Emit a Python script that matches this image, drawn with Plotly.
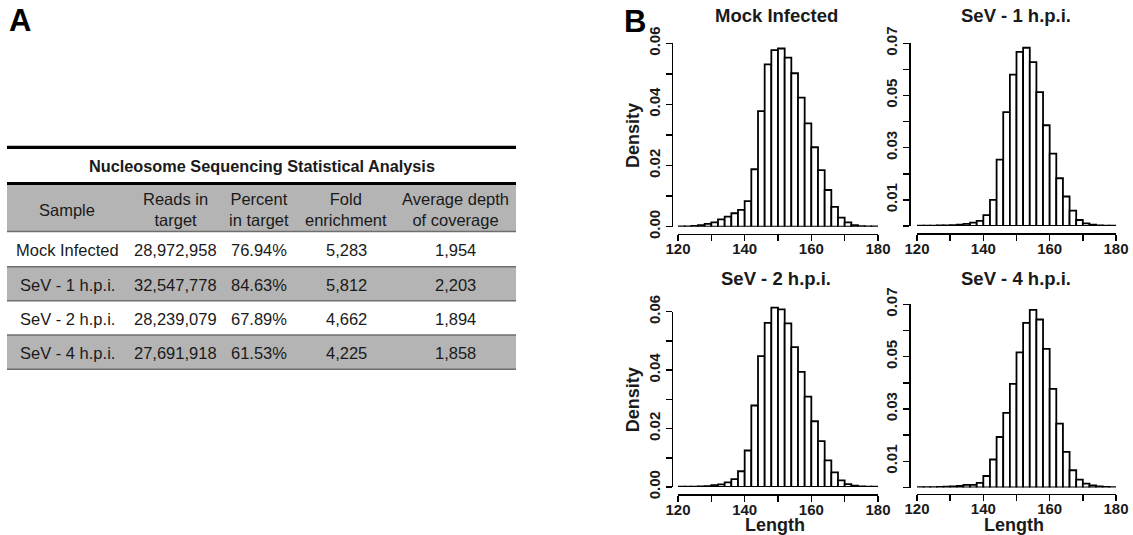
import plotly.graph_objects as go

W, H = 1133, 535
FONT = "Liberation Sans, Arial, Helvetica, sans-serif"
INK = "#1a1a1a"

# ---------------- data ----------------
bin_starts = list(range(120, 180, 2))
bin_width = 2

mock_density = [0.0001, 0.0001, 0.0003, 0.0005, 0.0009, 0.0014, 0.0024, 0.0033, 0.0044, 0.0055,
                0.0084, 0.0188, 0.0378, 0.0531, 0.0578, 0.0583, 0.0553, 0.0502, 0.0422, 0.0338,
                0.0260, 0.0185, 0.0120, 0.0065, 0.0030, 0.0014, 0.0005, 0.0002, 0.0001, 0.0001]
sev1_density = [0.0001, 0.0001, 0.0001, 0.0002, 0.0002, 0.0003, 0.0005, 0.0008, 0.0013, 0.0020,
                0.0042, 0.0100, 0.0254, 0.0436, 0.0580, 0.0667, 0.0683, 0.0628, 0.0513, 0.0386,
                0.0277, 0.0183, 0.0113, 0.0059, 0.0023, 0.0010, 0.0005, 0.0002, 0.0001, 0.0001]
sev2_density = [0.0001, 0.0001, 0.0001, 0.0002, 0.0003, 0.0006, 0.0009, 0.0016, 0.0027, 0.0054,
                0.0125, 0.0279, 0.0448, 0.0562, 0.0614, 0.0608, 0.0560, 0.0479, 0.0394, 0.0309,
                0.0225, 0.0157, 0.0091, 0.0050, 0.0023, 0.0010, 0.0005, 0.0002, 0.0001, 0.0001]
sev4_density = [0.0001, 0.0001, 0.0001, 0.0002, 0.0003, 0.0004, 0.0006, 0.0010, 0.0010, 0.0018,
                0.0044, 0.0107, 0.0193, 0.0285, 0.0396, 0.0516, 0.0629, 0.0679, 0.0642, 0.0530,
                0.0377, 0.0244, 0.0136, 0.0066, 0.0030, 0.0015, 0.0008, 0.0004, 0.0002, 0.0001]

panel_titles = ["Mock Infected", "SeV - 1 h.p.i.", "SeV - 2 h.p.i.", "SeV - 4 h.p.i."]
panel_data = [mock_density, sev1_density, sev2_density, sev4_density]

x_tick_vals = [120, 130, 140, 150, 160, 170, 180]
x_tick_text = ["120", "", "140", "", "160", "", "180"]
y_tick_vals_6 = [0.00, 0.01, 0.02, 0.03, 0.04, 0.05, 0.06]
y_tick_text_6 = ["0.00", "", "0.02", "", "0.04", "", "0.06"]
y_tick_vals_7 = [0.00, 0.01, 0.02, 0.03, 0.04, 0.05, 0.06, 0.07]
y_tick_text_7 = ["", "0.01", "", "0.03", "", "0.05", "", "0.07"]

table_title = "Nucleosome Sequencing Statistical Analysis"
table_header = ["Sample", "Reads in<br>target", "Percent<br>in target", "Fold<br>enrichment",
                "Average depth<br>of coverage"]
samples = ["Mock Infected", "SeV - 1 h.p.i.", "SeV - 2 h.p.i.", "SeV - 4 h.p.i."]
reads_in_target = ["28,972,958", "32,547,778", "28,239,079", "27,691,918"]
percent_in_target = ["76.94%", "84.63%", "67.89%", "61.53%"]
fold_enrichment = ["5,283", "5,812", "4,662", "4,225"]
average_depth = ["1,954", "2,203", "1,894", "1,858"]

# ---------------- helpers (page pixel -> paper fraction) ----------------
def fx(px):
    return px / W

def fy(py):
    return 1 - py / H

fig = go.Figure()
annotations = []
shapes = []

# ---------------- histograms ----------------
panels = [
    dict(x120=678, x180=878, y0=226.7, ytop=43.3, ymax=0.06, ax_x=671.7, ax_y=233.5,
         tx=776, ty=15, ticks=(y_tick_vals_6, y_tick_text_6), ylab=True, xlab=False),
    dict(x120=917, x180=1116, y0=226.0, ytop=43.3, ymax=0.07, ax_x=909, ax_y=233.0,
         tx=1016, ty=15, ticks=(y_tick_vals_7, y_tick_text_7), ylab=False, xlab=False),
    dict(x120=678, x180=878, y0=487.0, ytop=311.7, ymax=0.06, ax_x=671.7, ax_y=494.0,
         tx=776, ty=278, ticks=(y_tick_vals_6, y_tick_text_6), ylab=True, xlab=True),
    dict(x120=917, x180=1116, y0=487.5, ytop=304.3, ymax=0.07, ax_x=909, ax_y=493.5,
         tx=1016, ty=278, ticks=(y_tick_vals_7, y_tick_text_7), ylab=False, xlab=True),
]

layout_axes = {}
tickfont = dict(family=FONT, size=15, color=INK, weight="bold")
centers = [b + bin_width / 2 for b in bin_starts]

for i, (p, dens, title) in enumerate(zip(panels, panel_data, panel_titles)):
    k = i + 1
    kd = i + 5
    scale = (p["y0"] - p["ytop"]) / p["ymax"]
    R = max(p["ymax"], max(dens)) * 1.01
    top_px = p["y0"] - R * scale

    fig.add_trace(go.Bar(
        x=centers, y=dens, width=[bin_width] * len(centers),
        marker=dict(color="white", line=dict(color="black", width=1.8)),
        xaxis=f"x{k}", yaxis=f"y{k}", showlegend=False, hoverinfo="skip"))
    # helper (empty) trace to host the displayed y axis
    fig.add_trace(go.Scatter(x=[], y=[], xaxis=f"x{k}", yaxis=f"y{kd}",
                             showlegend=False, hoverinfo="skip"))

    layout_axes[f"xaxis{k}"] = dict(
        domain=[fx(p["x120"]), fx(p["x180"])], range=[120, 180],
        anchor="free", position=fy(p["ax_y"]), automargin=False,
        showline=True, linecolor="black", linewidth=1.7,
        ticks="outside", ticklen=6, tickwidth=1.5, tickcolor="black",
        tickmode="array", tickvals=x_tick_vals, ticktext=x_tick_text,
        ticklabelstandoff=-5,
        tickfont=tickfont, showgrid=False, zeroline=False, fixedrange=True)
    layout_axes[f"yaxis{k}"] = dict(
        domain=[fy(p["y0"]), fy(top_px)], range=[0, R], anchor=f"x{k}",
        visible=False, showgrid=False, zeroline=False, fixedrange=True, automargin=False)
    layout_axes[f"yaxis{kd}"] = dict(
        domain=[fy(p["y0"]), fy(p["ytop"])], range=[0, p["ymax"]],
        anchor="free", position=fx(p["ax_x"]), automargin=False,
        showline=True, linecolor="black", linewidth=1.7,
        ticks="outside", ticklen=6, tickwidth=1.5, tickcolor="black",
        tickmode="array", tickvals=p["ticks"][0], ticktext=p["ticks"][1],
        tickangle=-90, tickfont=tickfont, showgrid=False, zeroline=False,
        fixedrange=True)

    annotations.append(dict(x=fx(p["tx"]), y=fy(p["ty"]), xref="paper", yref="paper",
                            text=title, showarrow=False, xanchor="center", yanchor="middle",
                            font=dict(family=FONT, size=18.5, color=INK, weight="bold")))
    if p["ylab"]:
        annotations.append(dict(x=fx(633), y=fy((p["y0"] + p["ytop"]) / 2 + 1), xref="paper",
                                yref="paper", text="Density", textangle=-90, showarrow=False,
                                xanchor="center", yanchor="middle",
                                font=dict(family=FONT, size=18, color=INK, weight="bold")))
    if p["xlab"]:
        annotations.append(dict(x=fx((p["x120"] + p["x180"]) / 2 - 3), y=fy(525), xref="paper",
                                yref="paper", text="Length", showarrow=False,
                                xanchor="center", yanchor="middle",
                                font=dict(family=FONT, size=18, color=INK, weight="bold")))

# panel letters
for letter, lx, ly in [("A", 20, 20), ("B", 635, 21)]:
    annotations.append(dict(x=fx(lx), y=fy(ly), xref="paper", yref="paper", text=letter,
                            showarrow=False, xanchor="center", yanchor="middle",
                            font=dict(family=FONT, size=31, color="black", weight="bold")))

# ---------------- table ----------------
tbl_left, tbl_right = 7, 516
col_centers = [67, 175, 259, 346, 455]
rule_top, rule_mid = 147.3, 183.5
header_bottom = 231.5
row_lines = [231.5, 266.7, 300.7, 335.0, 369.3]
row_text_y = [250, 285, 319.3, 353.3]
GRAY = "#b4b4b4"

# header band
shapes.append(dict(type="rect", xref="paper", yref="paper", layer="below",
                   x0=fx(tbl_left), x1=fx(tbl_right), y0=fy(header_bottom), y1=fy(rule_mid),
                   fillcolor=GRAY, line=dict(width=0)))
# striped rows
for r in range(len(samples)):
    if r % 2 == 1:
        shapes.append(dict(type="rect", xref="paper", yref="paper", layer="below",
                           x0=fx(tbl_left), x1=fx(tbl_right),
                           y0=fy(row_lines[r + 1]), y1=fy(row_lines[r]),
                           fillcolor=GRAY, line=dict(width=0)))
# thick rules
for yy in (rule_top, rule_mid):
    shapes.append(dict(type="line", xref="paper", yref="paper",
                       x0=fx(tbl_left), x1=fx(tbl_right), y0=fy(yy), y1=fy(yy),
                       line=dict(color="black", width=3.2)))
# thin row separators
for yy in row_lines:
    shapes.append(dict(type="line", xref="paper", yref="paper",
                       x0=fx(tbl_left), x1=fx(tbl_right), y0=fy(yy), y1=fy(yy),
                       line=dict(color="#6e6e6e", width=1.6)))

annotations.append(dict(x=fx((88 + 435) / 2), y=fy(166), xref="paper", yref="paper",
                        text=table_title, showarrow=False, xanchor="center", yanchor="middle",
                        font=dict(family=FONT, size=16.3, color=INK, weight="bold")))

cell_font = dict(family=FONT, size=16.5, color=INK)
for c, htxt in enumerate(table_header):
    annotations.append(dict(x=fx(col_centers[c]), y=fy(209.5), xref="paper", yref="paper",
                            text=htxt, showarrow=False, xanchor="center", yanchor="middle",
                            align="center", font=cell_font))

columns = [samples, reads_in_target, percent_in_target, fold_enrichment, average_depth]
for c, col in enumerate(columns):
    for r, val in enumerate(col):
        annotations.append(dict(x=fx(col_centers[c]), y=fy(row_text_y[r]), xref="paper",
                                yref="paper", text=val, showarrow=False, xanchor="center",
                                yanchor="middle", font=cell_font))

fig.update_layout(
    template="none",
    width=W, height=H, autosize=False,
    margin=dict(l=0, r=0, t=0, b=0, pad=0),
    paper_bgcolor="white", plot_bgcolor="rgba(0,0,0,0)",
    showlegend=False, barmode="overlay",
    font=dict(family=FONT, color=INK),
    annotations=annotations, shapes=shapes,
    **layout_axes,
)

# place the figure at the page's top-left corner (no default body margin, no scrollbars)
fig.write_html("out.html",
               config={"displayModeBar": False, "staticPlot": True},
               post_script="document.body.style.margin='0px';"
                           "document.body.style.overflow='hidden';")
